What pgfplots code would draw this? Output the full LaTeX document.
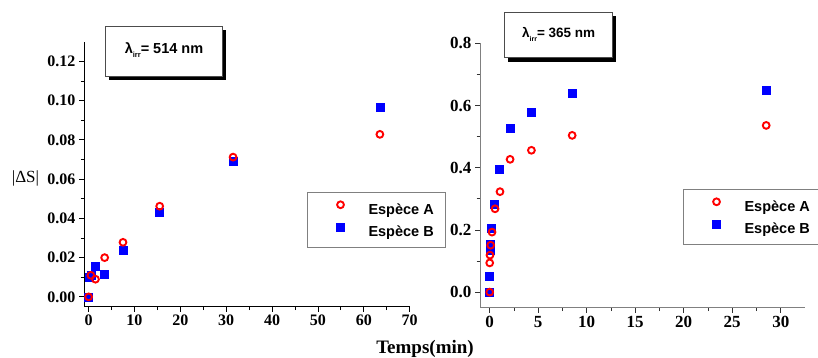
\documentclass[border=0pt]{standalone}
\usepackage{pgfplots}
\pgfplotsset{compat=1.18}
\usepackage{fontspec}
\setmainfont{Liberation Serif}
\setsansfont{Liberation Sans}
\definecolor{myred}{RGB}{255,0,0}
\definecolor{myblue}{RGB}{0,0,255}
\pgfplotsset{
  legimg/.style={legend image code/.code={%
    \path[draw=none, fill=none] (0pt,0pt) rectangle (49pt,5pt);
    \draw[##1] plot coordinates {(21pt,5pt)};}},
  seriesA/.style={only marks, mark=o, mark size=3.4pt, color=myred, mark options={line width=1.9pt, solid}, legimg},
  seriesB/.style={only marks, mark=square*, mark size=4pt, color=myblue, mark options={line width=0.5pt, solid}, legimg},
  common/.style={
    scale only axis,
    axis x line*=bottom, axis y line*=left,
    x axis line style={-}, y axis line style={-},
    tick align=outside,
    major tick length=5pt, minor tick length=3.5pt,
    minor tick num=1,
    /pgf/number format/assume math mode=true,
    reverse legend,
    legend cell align=left,
    legend style={draw=gray, line width=0.8pt, anchor=north west,
      inner xsep=12pt, inner ysep=9pt, row sep=6.5pt, column sep=0pt,
      font=\sffamily\bfseries\fontsize{14.5}{14.5}\selectfont,
      nodes={inner sep=0pt, text height=11pt, text depth=2.5pt}},
  }
}
\begin{document}
\begin{tikzpicture}[x=1pt,y=1pt]
\path[use as bounding box] (0,0) rectangle (818,358);
\clip (0,0) rectangle (818,358);
% left axis
\begin{axis}[common,
  at={(84pt,51.3pt)}, anchor=south west,
  width=325.7pt, height=265pt,
  xmin=-1, xmax=70, ymin=-0.005, ymax=0.13,
  xtick={0,10,...,70}, ytick={0,0.02,...,0.12},
  axis line style={black, line width=0.8pt},
  tick style={black, line width=0.8pt},
  yticklabel style={/pgf/number format/.cd, fixed, fixed zerofill, precision=2},
  tick label style={font=\bfseries\fontsize{16}{16}\selectfont},
  legend style={at={(0.685,0.433)}},
]
\addplot[seriesB] coordinates {
(0,0) (0.25,0.0102) (0.5,0.011) (1.5,0.0158) (3.5,0.0114) (7.5,0.0239) (15.5,0.0433) (31.5,0.0691) (63.5,0.0966)};
\addlegendentry{Espèce B}
\addplot[seriesA] coordinates {
(0,0) (0.5,0.011) (1.5,0.009) (3.5,0.020) (7.5,0.0278) (15.5,0.0462) (31.5,0.0712) (63.5,0.0828)};
\addlegendentry{Espèce A}
\end{axis}
% right axis
\begin{axis}[common,
  at={(480pt,50.3pt)}, anchor=south west,
  width=325pt, height=264.4pt,
  xmin=-1, xmax=32.5, ymin=-0.05, ymax=0.8,
  xtick={0,5,...,30}, ytick={0,0.2,...,0.8},
  axis line style={gray, line width=0.8pt},
  tick style={black!80, line width=0.8pt},
  yticklabel style={/pgf/number format/.cd, fixed, fixed zerofill, precision=1},
  tick label style={font=\bfseries\fontsize{17}{17}\selectfont},
  legend style={at={(0.625,0.449)}},
]
\addplot[seriesB] coordinates {
(0,0) (0,0.05) (0.07,0.135) (0.07,0.153) (0.2,0.205) (0.5,0.281) (1.0,0.394) (2.1,0.528) (4.3,0.578) (8.5,0.641) (28.5,0.648)};
\addlegendentry{Espèce B}
\addplot[seriesA] coordinates {
(0,0) (0,0.094) (0.03,0.119) (0.1,0.151) (0.24,0.193) (0.55,0.268) (1.06,0.323) (2.1,0.427) (4.3,0.456) (8.5,0.504) (28.5,0.536)};
\addlegendentry{Espèce A}
\end{axis}
% annotation boxes
\fill[black] (109,278) rectangle (226,328);
\draw[black!70, fill=white, line width=0.7pt] (105,282) rectangle (222,332);
\node[font=\sffamily\bfseries\fontsize{14.5}{14.5}\selectfont] at (164,307.5)
  {λ\raisebox{-4pt}{\fontsize{7.5}{7.5}\selectfont irr}= 514 nm};
\fill[black] (508,296) rectangle (616,341.7);
\draw[black!70, fill=white, line width=0.7pt] (504,300.3) rectangle (612.3,345.7);
\node[font=\sffamily\bfseries\fontsize{13.5}{13.5}\selectfont] at (558.7,323.7)
  {λ\raisebox{-4pt}{\fontsize{7}{7}\selectfont irr}= 365 nm};
% axis labels
\node[anchor=base, font=\bfseries\fontsize{19}{19}\selectfont] at (425,4) {Temps(min)};
\node[font=\fontsize{17}{17}\selectfont] at (25.5,180) {|ΔS|};
\end{tikzpicture}
\end{document}
